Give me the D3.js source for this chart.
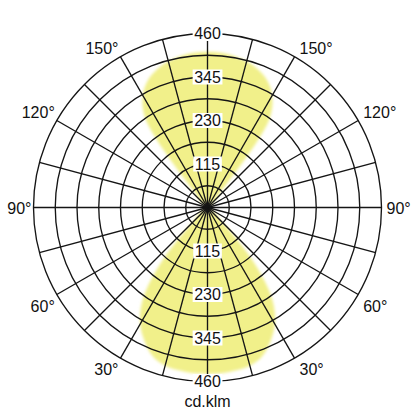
<!DOCTYPE html>
<html>
<head>
<meta charset="utf-8">
<script src="https://cdn.jsdelivr.net/npm/d3@7"></script>
<style>
  html, body { margin: 0; padding: 0; background: #fff; }
  svg { display: block; }
  text { font-family: "Liberation Sans", Arial, sans-serif; fill: #111; }
</style>
</head>
<body>
<svg id="chart" width="416" height="416"></svg>
<script>
// ---- data ----
const gammaDeg = [0, 5, 10, 15, 20, 25, 30, 35, 40, 45, 50];           // angle from the lobe axis
const cdC0     = [440, 440, 437, 433, 420, 392, 356, 300, 195, 60, 0];  // lower lobe (0°)
const cdC180   = [412, 411, 407, 400, 389, 372, 342, 285, 55, 0, 0];    // upper lobe (180°)
const ringTicks   = [57.5, 115, 172.5, 230, 287.5, 345, 402.5, 460];
const ringLabels  = [115, 230, 345, 460];
const angleLabels = [30, 60, 90, 120, 150];
const spokeAngles = [0, 15, 30, 45, 60, 75, 90, 105, 120, 135, 150, 165,
                     180, 195, 210, 225, 240, 255, 270, 285, 300, 315, 330, 345];
const unitLabel = "cd.klm";

// ---- layout ----
const W = 416, H = 416, cx = 207.5, cy = 207.5, R = 174;
const svg = d3.select("#chart");
const r = d3.scaleLinear().domain([0, 460]).range([0, R]);
const toRad = d => d * Math.PI / 180;

const defs = svg.append("defs");
defs.append("filter").attr("id", "soft")
  .attr("x", "-20%").attr("y", "-20%").attr("width", "140%").attr("height", "140%")
  .append("feGaussianBlur").attr("stdDeviation", 1.8);

const g = svg.append("g").attr("transform", `translate(${cx},${cy})`);

// lobes: lineRadial angle 0 = up, clockwise
function lobePoints(values, axisAngle) {
  const pts = [];
  for (let i = gammaDeg.length - 1; i >= 0; i--) {
    if (values[i] > 0 || (i > 0 && values[i - 1] > 0)) pts.push([toRad(axisAngle - gammaDeg[i]), r(values[i])]);
  }
  for (let i = 1; i < gammaDeg.length; i++) {
    if (values[i] > 0 || values[i - 1] > 0) pts.push([toRad(axisAngle + gammaDeg[i]), r(values[i])]);
    if (values[i] === 0) break;
  }
  return pts;
}
const lobeLine = d3.lineRadial().curve(d3.curveCatmullRomClosed.alpha(0.5));
const lobes = [lobePoints(cdC180, 0), lobePoints(cdC0, 180)];
g.append("g").attr("filter", "url(#soft)")
  .selectAll("path").data(lobes).join("path")
  .attr("d", d => lobeLine(d.slice(0, -1)))
  .attr("fill", "#f1f08a");

// grid
const grid = g.append("g").attr("fill", "none").attr("stroke", "#151515").attr("stroke-width", 1.35);
grid.selectAll("circle").data(ringTicks).join("circle").attr("r", d => r(d));
grid.selectAll("line").data(spokeAngles).join("line")
  .attr("x1", 0).attr("y1", 0)
  .attr("x2", d => R * Math.sin(toRad(d)))
  .attr("y2", d => -R * Math.cos(toRad(d)));

// radial value labels with white boxes (top and bottom)
const vl = g.append("g");
[-1, 1].forEach(sign => {
  ringLabels.forEach(v => {
    const y = sign * r(v);
    const t = vl.append("text").attr("x", 0).attr("y", y + 5.8)
      .attr("text-anchor", "middle").attr("font-size", 16).text(v);
    const bb = t.node().getBBox();
    vl.insert("rect", "text").attr("x", bb.x - 1.5).attr("y", y - 7.5)
      .attr("width", bb.width + 3).attr("height", 15).attr("fill", "#fff");
  });
});

// angle labels (measured from the bottom)
const al = g.append("g");
angleLabels.forEach(a => {
  const px = R * Math.sin(toRad(a)), py = R * Math.cos(toRad(a));
  const dy = a > 90 ? -3 : (a === 90 ? 6 : 17);
  al.append("text").attr("x", -px - 2).attr("y", py + dy)
    .attr("text-anchor", "end").attr("font-size", 16).text(a + "°");
  al.append("text").attr("x", px + 5).attr("y", py + dy)
    .attr("text-anchor", "start").attr("font-size", 16).text(a + "°");
});

// unit
svg.append("text").attr("x", cx).attr("y", 406.5).attr("text-anchor", "middle")
  .attr("font-size", 16).text(unitLabel);
</script>
</body>
</html>
